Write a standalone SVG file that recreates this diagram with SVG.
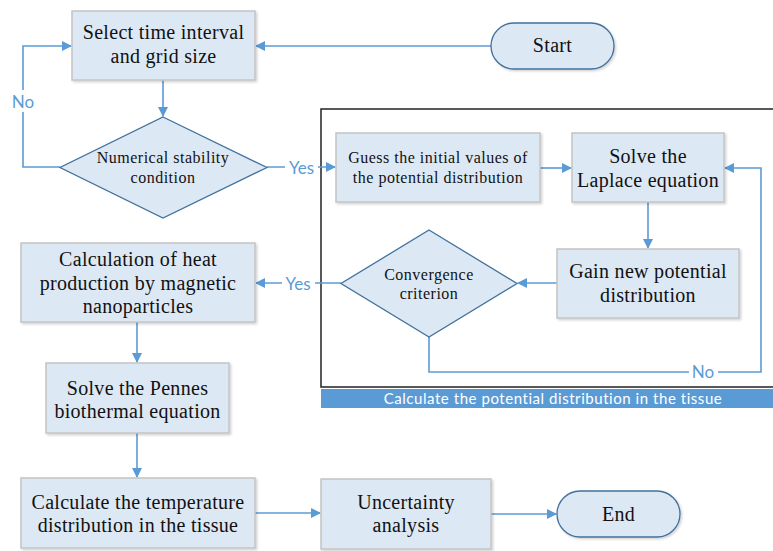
<svg xmlns="http://www.w3.org/2000/svg" width="773" height="551" viewBox="0 0 773 551">
<defs>
<marker id="ah" markerWidth="10" markerHeight="10" refX="9" refY="5" orient="auto" markerUnits="userSpaceOnUse">
<path d="M0,0 L10,5 L0,10 z" fill="#5b9bd5"/>
</marker>
<filter id="sh" x="-10%" y="-10%" width="130%" height="130%">
<feDropShadow dx="1.5" dy="1.5" stdDeviation="1" flood-color="#000" flood-opacity="0.18"/>
</filter>
</defs>
<style>
.box{fill:#dde8f5;stroke:#c4c4c4;stroke-width:1.5;filter:url(#sh)}
.dia{fill:#dde8f5;stroke:#41719c;stroke-width:1.3}
.pill{fill:#dde8f5;stroke:#41719c;stroke-width:1.3;filter:url(#sh)}
.t{font-family:"Liberation Serif","Times New Roman",serif;fill:#111;text-anchor:middle}
.big{font-size:20px;letter-spacing:0.3px}
.sm{font-size:16px;letter-spacing:0.5px}
.lab{font-family:Lato,"Liberation Sans",sans-serif;font-size:17px;fill:#5b9bd5;text-anchor:middle}
.c{fill:none;stroke:#5b9bd5;stroke-width:1.6}
</style>
<rect width="773" height="551" fill="#fff"/>
<g id="container">
<rect x="321" y="109" width="460" height="278" fill="none" stroke="#222" stroke-width="1.5"/>
<rect x="321" y="389" width="460" height="19" fill="#5b9bd5"/>
<text x="553" y="404" font-family="Lato,'Liberation Sans',sans-serif" font-size="15" letter-spacing="0.55" fill="#fff" text-anchor="middle">Calculate the potential distribution in the tissue</text>
</g>
<g id="connectors">
<path class="c" d="M491,46 H256" marker-end="url(#ah)"/>
<path class="c" d="M163,80 V116" marker-end="url(#ah)"/>
<path class="c" d="M60,167 H23 V46 H71" marker-end="url(#ah)"/>
<path class="c" d="M267,167 H335" marker-end="url(#ah)"/>
<path class="c" d="M540,168 H571" marker-end="url(#ah)"/>
<path class="c" d="M648,202 V248" marker-end="url(#ah)"/>
<path class="c" d="M557,283 H518" marker-end="url(#ah)"/>
<path class="c" d="M429,337 V372 H761 V168 H725" marker-end="url(#ah)"/>
<path class="c" d="M341,283 H256" marker-end="url(#ah)"/>
<path class="c" d="M137,322 V362" marker-end="url(#ah)"/>
<path class="c" d="M137,433 V477" marker-end="url(#ah)"/>
<path class="c" d="M255,513 H320" marker-end="url(#ah)"/>
<path class="c" d="M491,514 H556" marker-end="url(#ah)"/>
<rect x="9" y="90" width="28" height="22" fill="#fff"/>
<text class="lab" x="23" y="108">No</text>
<rect x="285" y="158" width="33" height="20" fill="#fff"/>
<text class="lab" x="301.5" y="174">Yes</text>
<rect x="282" y="274" width="33" height="20" fill="#fff"/>
<text class="lab" x="298" y="290">Yes</text>
<rect x="689" y="362" width="29" height="20" fill="#fff"/>
<text class="lab" x="703" y="378">No</text>
</g>
<g id="start">
<rect class="pill" x="491" y="23" width="123" height="46" rx="23"/>
<text class="t big" x="552.5" y="52">Start</text>
</g>
<g id="select">
<rect class="box" x="72" y="11" width="183" height="69"/>
<text class="t big" x="163.5" y="39">Select time interval</text>
<text class="t big" x="163.5" y="63">and grid size</text>
</g>
<g id="stability">
<polygon class="dia" points="163,117 267,167.5 163,218 60,167.5"/>
<text class="t sm" x="163" y="163">Numerical stability</text>
<text class="t sm" x="163" y="183">condition</text>
</g>
<g id="guess">
<rect class="box" x="336" y="133" width="204" height="69"/>
<text class="t sm" x="438" y="163">Guess the initial values of</text>
<text class="t sm" x="438" y="183">the potential distribution</text>
</g>
<g id="laplace">
<rect class="box" x="572" y="133" width="152" height="69"/>
<text class="t big" x="648" y="163">Solve the</text>
<text class="t big" x="648" y="187">Laplace equation</text>
</g>
<g id="gain">
<rect class="box" x="557" y="249" width="182" height="69"/>
<text class="t big" x="648" y="278">Gain new potential</text>
<text class="t big" x="648" y="302">distribution</text>
</g>
<g id="convergence">
<polygon class="dia" points="429,230 517,283.5 429,337 341,283.5"/>
<text class="t sm" x="429" y="280">Convergence</text>
<text class="t sm" x="429" y="299">criterion</text>
</g>
<g id="heat">
<rect class="box" x="21" y="243" width="234" height="79"/>
<text class="t big" x="138" y="266">Calculation of heat</text>
<text class="t big" x="138" y="290">production by magnetic</text>
<text class="t big" x="138" y="313">nanoparticles</text>
</g>
<g id="pennes">
<rect class="box" x="46" y="363" width="183" height="70"/>
<text class="t big" x="137.5" y="395">Solve the Pennes</text>
<text class="t big" x="137.5" y="418">biothermal equation</text>
</g>
<g id="temperature">
<rect class="box" x="21" y="478" width="234" height="70"/>
<text class="t big" x="138" y="509">Calculate the temperature</text>
<text class="t big" x="138" y="532">distribution in the tissue</text>
</g>
<g id="uncertainty">
<rect class="box" x="321" y="479" width="170" height="70"/>
<text class="t big" x="406" y="509">Uncertainty</text>
<text class="t big" x="406" y="532">analysis</text>
</g>
<g id="end">
<rect class="pill" x="557" y="491" width="123" height="46" rx="23"/>
<text class="t big" x="618.5" y="521">End</text>
</g>
</svg>
